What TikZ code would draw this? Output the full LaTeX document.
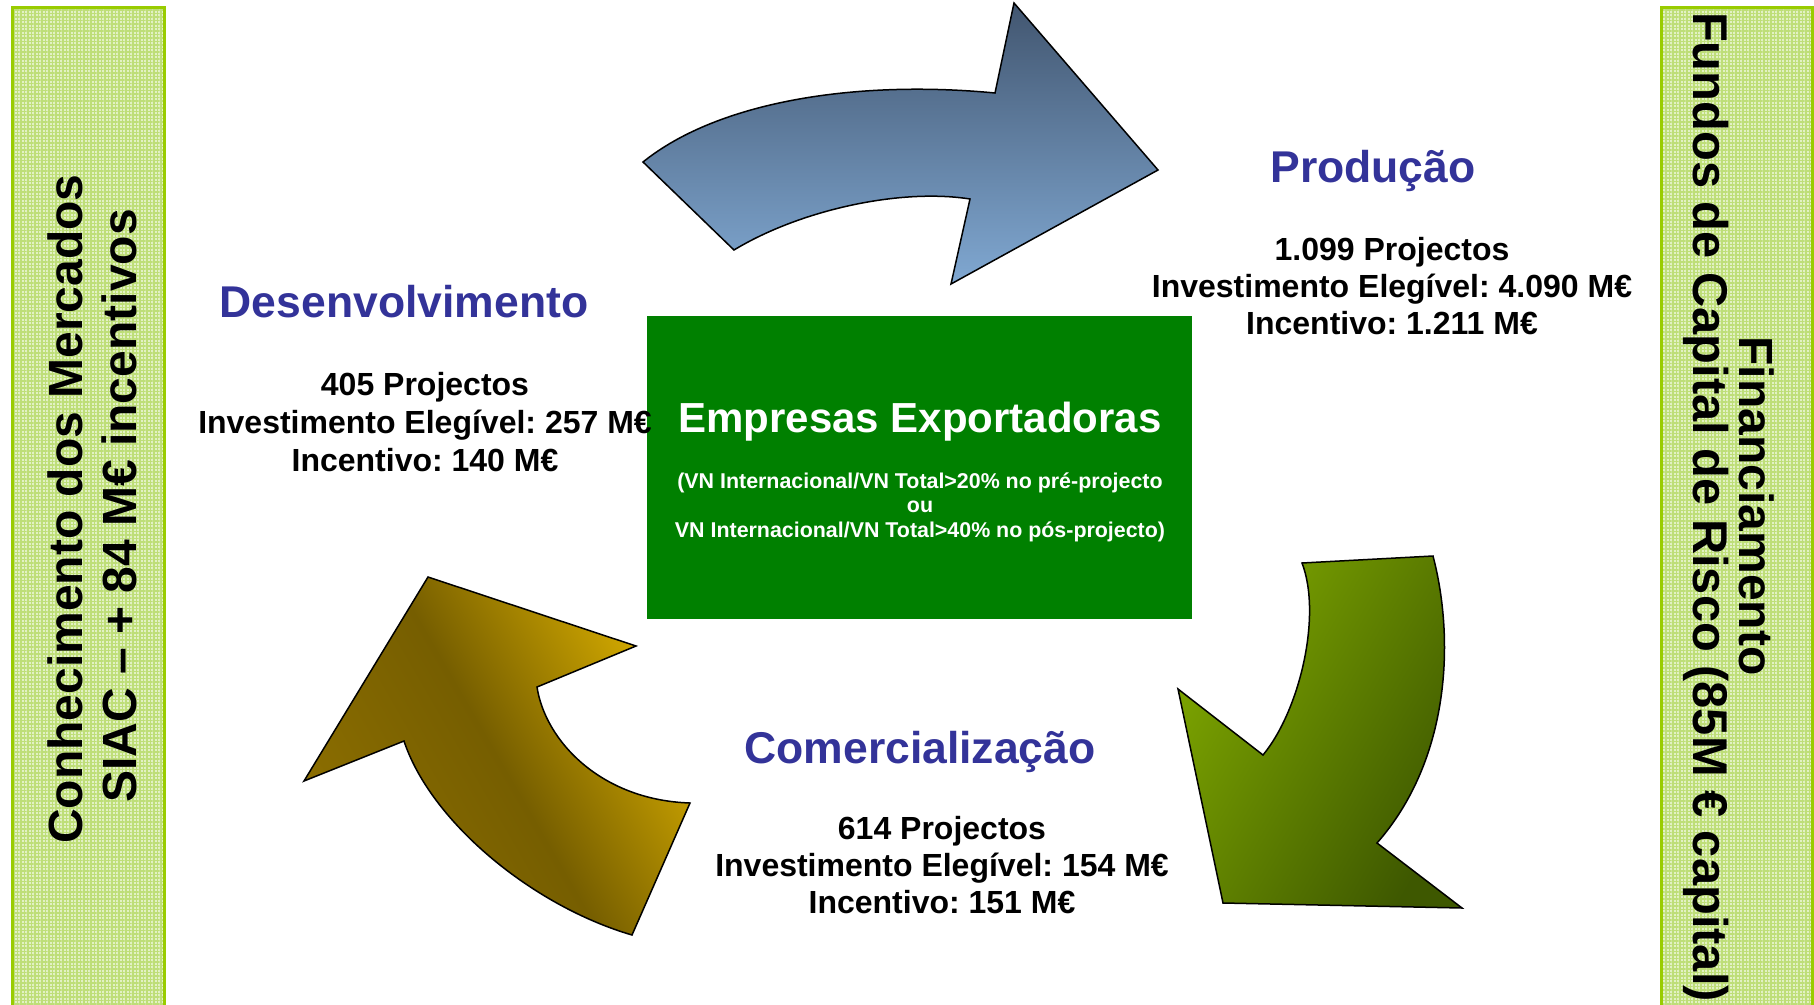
\documentclass[tikz,border=0pt]{standalone}
\usepackage{fontspec}
\setmainfont{Liberation Sans}
\frenchspacing
\usetikzlibrary{patterns.meta}
\definecolor{phase_blue}{RGB}{51,51,153}
\definecolor{box_green}{RGB}{0,128,0}
\definecolor{bar_border}{RGB}{153,204,0}
\definecolor{bar_fill}{RGB}{226,241,196}
\definecolor{bar_grid}{RGB}{190,222,120}
\definecolor{blue_top}{RGB}{66,86,112}
\definecolor{blue_bot}{RGB}{128,168,210}
\definecolor{gold_mid}{RGB}{140,110,0}
\definecolor{gold_dark}{RGB}{118,94,0}
\definecolor{gold_light}{RGB}{214,172,0}
\definecolor{green_light}{RGB}{125,165,0}
\definecolor{green_dark}{RGB}{62,88,0}
\tikzstyle{bar_side} = [draw=bar_border, line width=3pt, preaction={fill=bar_fill}, pattern={Hatch[angle=0,distance=3.5pt,line width=1.2pt]}, pattern color=bar_grid, minimum width=152pt, minimum height=1004pt, inner sep=0pt]
\tikzstyle{bar_text} = [font=\fontsize{48}{54}\selectfont\bfseries, anchor=base, inner sep=0pt]
\tikzstyle{phase_title} = [font=\fontsize{44.5}{50}\selectfont\bfseries, text=phase_blue, anchor=base, inner sep=0pt]
\tikzstyle{phase_data} = [font=\fontsize{32}{37}\selectfont\bfseries, anchor=base, inner sep=0pt]
\tikzstyle{box_main} = [fill=box_green, minimum width=545pt, minimum height=303pt, inner sep=0pt]
\tikzstyle{box_title} = [font=\fontsize{42}{48}\selectfont\bfseries, text=white, anchor=base, inner sep=0pt]
\tikzstyle{box_note} = [font=\fontsize{21.4}{24.5}\selectfont\bfseries, text=white, anchor=base, inner sep=0pt]
\tikzstyle{arrow_shape} = [draw=black, line width=1.5pt, line join=miter]

\begin{document}
\begin{tikzpicture}[x=1pt,y=-1pt]
\useasboundingbox (0,0) rectangle (1814,1004);
% side bars
\node (LB) at (88,509) [bar_side] {};
\node (RB) at (1736.5,509) [bar_side, minimum width=151pt] {};
\node (LB1) at (82,509) [bar_text, rotate=90] {Conhecimento dos Mercados};
\node (LB2) at (136,506) [bar_text, rotate=90] {SIAC – + 84 M€ incentivos};
\node (RB1) at (1739,506) [bar_text, rotate=-90] {Financiamento};
\node (RB2) at (1693,507) [bar_text, rotate=-90, font=\fontsize{48.8}{54}\selectfont\bfseries] {Fundos de Capital de Risco (85M € capital)};
% arrows
\draw[arrow_shape, top color=blue_top, bottom color=blue_bot] (643,162) .. controls (720,100) and (860,80) .. (995,93) -- (1014,3) -- (1158,170) -- (951,284) -- (970,199) .. controls (900,188) and (800,210) .. (734,250) -- cycle;
\draw[arrow_shape, left color=green_light, right color=green_dark, shading angle=60] (1302,563) -- (1433,556) .. controls (1455,640) and (1450,760) .. (1377,843) -- (1462,908) -- (1223,903) -- (1178,689) -- (1263,755) .. controls (1300,710) and (1322,615) .. (1302,563) -- cycle;
\draw[arrow_shape, left color=gold_mid, right color=gold_light, middle color=gold_dark, shading angle=120] (428,577) -- (636,646) -- (537,687) .. controls (545,740) and (600,800) .. (690,803) -- (632,935) .. controls (530,905) and (430,820) .. (404,741) -- (304,781) -- cycle;
% centre
\node (E) at (919.5,467.5) [box_main] {};
\node (E1) at (920,432) [box_title] {Empresas Exportadoras};
\node (E2) at (920,488) [box_note] {(VN Internacional/VN Total>20\% no pré-projecto};
\node (E3) at (920,512) [box_note] {ou};
\node (E4) at (920,537) [box_note] {VN Internacional/VN Total>40\% no pós-projecto)};
% phases
\node (D) at (404,317) [phase_title] {Desenvolvimento};
\node (D1) at (425,395) [phase_data] {405 Projectos};
\node (D2) at (425,433) [phase_data] {Investimento Elegível: 257 M€};
\node (D3) at (425,471) [phase_data] {Incentivo: 140 M€};
\node (P) at (1373,182) [phase_title] {Produção};
\node (P1) at (1392,260) [phase_data] {1.099 Projectos};
\node (P2) at (1392,297) [phase_data] {Investimento Elegível: 4.090 M€};
\node (P3) at (1392,334) [phase_data] {Incentivo: 1.211 M€};
\node (C) at (920,763) [phase_title] {Comercialização};
\node (C1) at (942,839) [phase_data] {614 Projectos};
\node (C2) at (942,876) [phase_data] {Investimento Elegível: 154 M€};
\node (C3) at (942,913) [phase_data] {Incentivo: 151 M€};
\end{tikzpicture}
\end{document}
